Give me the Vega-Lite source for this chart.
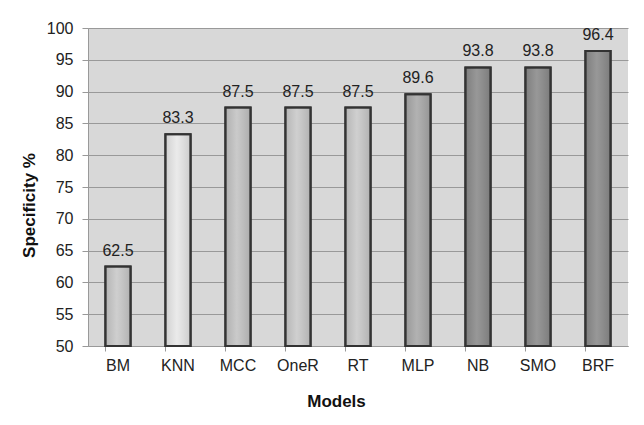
{
  "$schema": "https://vega.github.io/schema/vega-lite/v6.json",
  "autosize": "none",
  "width": 540,
  "height": 318,
  "padding": {"left": 88, "top": 28, "right": 16, "bottom": 79},
  "background": "white",
  "data": {"values": [
    {"Model": "BM", "Specificity": 62.5},
    {"Model": "KNN", "Specificity": 83.3},
    {"Model": "MCC", "Specificity": 87.5},
    {"Model": "OneR", "Specificity": 87.5},
    {"Model": "RT", "Specificity": 87.5},
    {"Model": "MLP", "Specificity": 89.6},
    {"Model": "NB", "Specificity": 93.8},
    {"Model": "SMO", "Specificity": 93.8},
    {"Model": "BRF", "Specificity": 96.4}
  ]},
  "encoding": {
    "x": {"field": "Model", "type": "nominal", "sort": null,
      "scale": {"paddingInner": 0.58, "paddingOuter": 0.29},
      "axis": {"title": "Models", "labelAngle": 0, "bandPosition": 0, "tickSize": 5, "labelPadding": 6,
        "titlePadding": 20, "titleX": 248, "grid": false}},
    "y": {"field": "Specificity", "type": "quantitative",
      "scale": {"domain": [50, 100], "zero": false, "nice": false},
      "axis": {"title": "Specificity %", "values": [50,55,60,65,70,75,80,85,90,95,100], "tickSize": 6,
        "labelPadding": 9, "titlePadding": 8, "titleY": 177, "grid": true}}
  },
  "layer": [
    {"mark": {"type": "bar", "stroke": "#333333", "strokeWidth": 2},
      "encoding": {"y2": {"datum": 50},
        "color": {"field": "Model", "type": "nominal", "legend": null,
        "scale": {"domain": ["BM","KNN","MCC","OneR","RT","MLP","NB","SMO","BRF"],
          "range": ["#c9c9c9","#e8e8e8","#c4c4c4","#cacaca","#cacaca","#a9a9a9","#8c8c8c","#8c8c8c","#8c8c8c"]}}}},
    {"mark": {"type": "bar", "fill": {"gradient": "linear", "x1": 0, "y1": 0, "x2": 1, "y2": 0,
        "stops": [{"offset": 0, "color": "rgba(0,0,0,0.10)"}, {"offset": 0.45, "color": "rgba(255,255,255,0.10)"}, {"offset": 1, "color": "rgba(0,0,0,0.12)"}]},
        "stroke": "#333333", "strokeWidth": 2},
      "encoding": {"y2": {"datum": 50}}},
    {"mark": {"type": "text", "baseline": "alphabetic", "dy": -11, "fontSize": 16, "font": "Liberation Sans", "color": "#222222"},
      "encoding": {"text": {"field": "Specificity", "type": "quantitative", "format": ".1f"}}}
  ],
  "config": {
    "view": {"fill": "#d8d8d8", "stroke": null},
    "axis": {"labelFont": "Liberation Sans", "labelFontSize": 16, "labelColor": "#222222",
      "titleFont": "Liberation Sans", "titleFontSize": 17, "titleFontWeight": "bold", "titleColor": "#111111",
      "domainColor": "#999999", "tickColor": "#999999", "gridColor": "#999999", "gridWidth": 1}
  }
}
